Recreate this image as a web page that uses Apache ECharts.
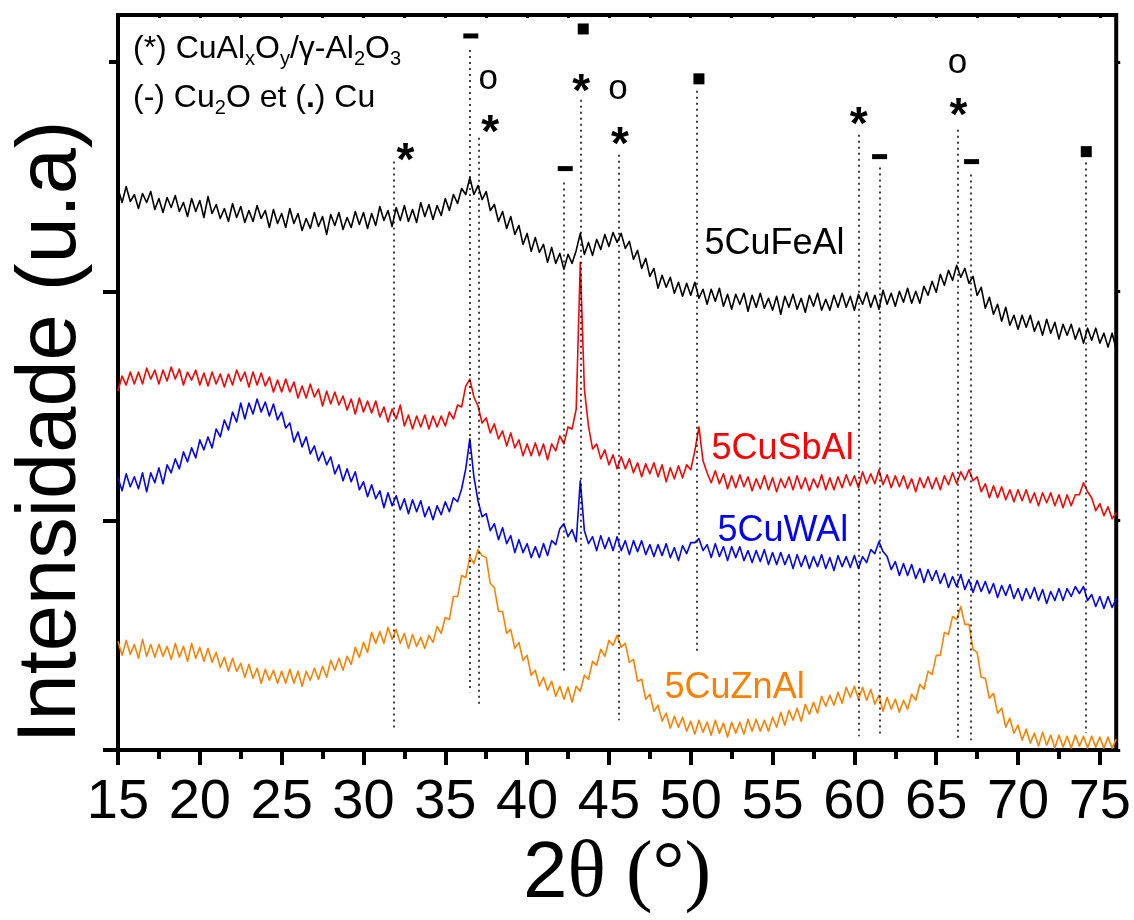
<!DOCTYPE html>
<html>
<head>
<meta charset="utf-8">
<script src="https://cdn.jsdelivr.net/npm/echarts@6/dist/echarts.min.js"></script>
<style>html,body{margin:0;padding:0;background:#fff}#chart{width:1134px;height:920px}</style>
</head>
<body>
<div id="chart"></div>
<script>
// 2θ sampling grid: 15° to 76° every 0.25°
const thetaStart = 15;
const thetaStep = 0.25;

// Intensities (a.u.), one value per 0.25°
const cuFeAl = [
563,549,565,550,557,543,558,549,560,542,553,539,554,544,556,540,549,535,553,540,
551,534,555,538,547,533,543,530,548,534,545,529,541,530,546,533,541,524,542,528,
538,524,543,528,538,521,533,523,539,525,535,517,537,526,539,522,534,524,540,527,
539,523,538,526,545,531,541,525,544,531,546,530,542,529,549,535,547,532,546,536,
553,541,557,548,563,557,574,557,566,552,560,541,547,530,540,523,535,517,526,507,
518,500,514,499,507,489,504,488,498,482,497,488,501,518,497,509,496,512,502,517,
505,519,509,518,503,510,492,501,483,493,475,483,463,476,464,474,458,469,455,468,
456,469,453,462,447,462,450,463,445,457,442,457,447,458,440,456,444,458,443,453,
441,455,437,455,444,457,442,453,439,456,445,458,441,452,441,456,444,458,444,455,
441,457,447,459,444,456,442,461,447,458,445,460,449,463,448,460,448,465,456,470,
459,477,466,481,471,486,474,483,468,475,456,464,443,454,437,447,430,444,426,436,
422,436,424,436,420,430,416,432,418,429,412,427,416,427,412,423,408,423,411,423,
408,418,404,418,402
];
const cuSbAl = [
360,375,366,379,367,379,367,383,372,381,367,381,370,384,372,382,366,379,371,381,
366,378,365,379,367,377,364,377,366,381,370,379,364,379,366,378,365,374,359,371,
359,372,359,369,353,365,353,367,354,362,345,360,347,359,346,355,341,352,337,353,
339,350,338,350,334,344,329,342,332,346,325,336,322,335,324,336,322,335,324,335,
325,339,332,346,344,365,372,354,345,328,333,318,327,312,320,305,318,303,311,295,
307,295,308,295,307,291,307,300,315,307,324,322,342,489,362,325,302,307,292,301,
286,296,282,294,282,292,278,288,274,287,277,288,274,286,269,283,272,285,273,286,
281,300,324,290,278,268,280,267,277,262,275,263,276,264,274,260,272,262,275,261,
273,259,272,263,274,261,275,262,273,260,272,263,276,261,273,261,274,263,276,265,
275,263,279,267,277,267,281,266,276,263,275,264,275,262,272,259,273,263,274,262,
273,261,275,266,278,267,279,271,281,270,274,259,267,253,265,253,264,251,261,249,
261,250,261,248,258,245,258,248,258,245,256,243,256,245,256,256,268,259,253,240,
247,235,244,232,238
];
const cuWAl = [
273,260,277,264,274,262,278,259,278,268,283,267,286,278,292,282,299,289,303,293,
311,301,314,303,322,314,331,321,339,329,348,332,348,337,352,339,349,335,347,331,
339,323,328,309,319,304,314,297,305,290,299,286,294,277,286,270,282,269,279,261,
269,254,266,252,260,243,258,245,255,241,252,237,251,239,250,234,244,231,245,236,
249,239,253,249,262,282,312,274,250,234,237,220,227,211,223,207,215,198,211,198,
207,193,204,193,207,195,210,206,222,227,214,221,209,270,220,207,214,200,215,202,
213,200,214,200,210,196,210,199,210,196,206,194,206,195,207,193,203,190,205,197,
208,208,212,200,206,193,207,194,204,190,204,193,204,190,200,188,200,189,201,186,
198,186,198,186,196,182,196,184,195,182,194,184,196,182,193,180,195,184,194,183,
195,182,194,188,201,197,209,199,194,181,189,175,187,175,186,172,182,168,181,170,
180,167,177,163,174,164,176,161,171,158,170,159,169,157,167,153,165,155,166,152,
162,150,162,152,163,150,161,147,159,150,162,150,162,154,164,157,164,150,156,144,
154,142,154,143,152
];
const cuZnAl = [
109,95,110,96,106,92,111,94,106,93,106,94,104,91,107,93,104,89,107,92,
103,89,102,88,98,83,93,79,92,79,87,73,86,72,82,67,81,70,80,67,
79,67,81,67,79,64,79,70,82,71,84,73,90,80,92,80,94,86,103,93,
108,98,118,107,119,107,123,111,121,107,117,102,116,104,113,102,115,108,124,117,
133,131,154,154,175,173,194,187,201,195,193,167,163,139,139,117,121,102,108,90,
95,75,80,64,73,60,69,54,64,51,63,48,64,59,75,71,89,85,101,94,
110,105,115,103,107,88,91,69,71,51,56,39,45,29,37,22,34,23,33,19,
29,16,30,18,28,15,30,17,27,13,28,17,28,16,31,19,31,19,30,19,
33,23,38,25,40,30,42,29,46,36,48,37,54,44,55,45,58,47,63,53,
64,51,63,50,61,46,55,39,53,41,51,38,50,41,56,50,66,61,79,76,
95,95,118,116,134,131,144,126,126,101,98,73,72,52,57,37,42,23,32,17,
25,10,21,7,17,4,18,5,15,2,15,3,14,2,15,4,14,2,14,3,
13,2,13,2,11
];

// Axes ticks
const xTicks = [15, 20, 25, 30, 35, 40, 45, 50, 55, 60, 65, 70, 75];
const xMinorTicks = [17.5, 22.5, 27.5, 32.5, 37.5, 42.5, 47.5, 52.5, 57.5, 62.5, 67.5, 72.5];
const xTopTicks = [15, 17.5, 20, 22.5, 25, 27.5, 30, 32.5, 35, 37.5, 40, 42.5, 45, 47.5, 50, 52.5, 55, 57.5, 60, 62.5, 65, 67.5, 70, 72.5, 75];
const yTicks = [0, 230, 460];
const yMinorTicks = [690];
const yRightTicks = [0, 230, 460, 690];

// Sample names and where they sit [2θ, intensity]
const sampleNames = ['5CuFeAl', '5CuSbAl', '5CuWAl', '5CuZnAl'];
const sampleLabelAt = [[50.81, 507], [51.24, 302], [51.60, 220], [48.37, 62]];

// Reference peak lines [2θ, top, bottom]
const refLines = [
  [31.84, 590, 20], [36.47, 702, 58], [37.02, 614, 45], [42.25, 569, 77],
  [43.30, 652, 83], [45.62, 597, 30], [50.38, 661, 97], [60.26, 617, 14],
  [61.54, 584, 14], [66.30, 622, 12], [67.10, 577, 10], [74.11, 589, 17]
];
// Phase markers [2θ, height]
const starMarks = [[32.57, 599], [37.75, 627], [43.30, 669], [45.68, 615], [60.26, 635], [66.36, 644]];
const circleMarks = [[37.63, 669], [45.56, 659], [66.30, 686]];
const dashMarks = [[36.56, 716], [42.33, 583], [61.54, 595], [67.16, 590]];
const squareMarks = [[43.43, 723], [50.50, 673], [74.17, 600]];

const FONT = "'Liberation Sans', Arial, Helvetica, sans-serif";
const colors = ['#000000', '#ff0000', '#0000ff', '#ff8000'];
const curves = [cuFeAl, cuSbAl, cuWAl, cuZnAl];

function pairs(arr) {
  return arr.map((v, i) => [thetaStart + i * thetaStep, v]);
}

const chart = echarts.init(document.getElementById('chart'), null, {renderer: 'canvas'});

const lineSeries = curves.map((arr, k) => ({
  type: 'line',
  name: sampleNames[k],
  data: pairs(arr),
  showSymbol: false,
  symbol: 'none',
  clip: true,
  z: 3,
  lineStyle: {color: colors[k], width: 1.6, join: 'round'},
  emphasis: {disabled: true}
}));

const hiddenItem = {color: 'rgba(0,0,0,0)', opacity: 1};

const option = {
  animation: false,
  backgroundColor: '#ffffff',
  grid: {left: 118, right: 16, top: 15, bottom: 168, show: true, borderWidth: 4, borderColor: '#000', backgroundColor: 'transparent'},
  xAxis: [
    {
      type: 'value', min: 15, max: 76, position: 'bottom',
      axisLine: {show: false, onZero: false},
      axisTick: {show: true, customValues: xTicks, length: 15, lineStyle: {color: '#000', width: 4}},
      axisLabel: {show: true, customValues: xTicks, fontSize: 56, fontFamily: FONT, color: '#000', margin: 24},
      splitLine: {show: false},
      name: '{a|2}{b|θ (°)}',
      nameLocation: 'middle',
      nameGap: 82,
      nameTextStyle: {
        rich: {
          a: {fontSize: 80, fontFamily: FONT, color: '#000'},
          b: {fontSize: 80, fontFamily: "'Liberation Serif', 'Times New Roman', serif", color: '#000'}
        }
      }
    },
    {
      type: 'value', min: 15, max: 76, position: 'bottom',
      axisLine: {show: false, onZero: false},
      axisTick: {show: true, customValues: xMinorTicks, length: 9, lineStyle: {color: '#000', width: 4}},
      axisLabel: {show: false}, splitLine: {show: false}
    },
    {
      type: 'value', min: 15, max: 76, position: 'top',
      axisLine: {show: false, onZero: false},
      axisTick: {show: true, inside: true, customValues: xTopTicks, length: 3, lineStyle: {color: '#000', width: 3}},
      axisLabel: {show: false}, splitLine: {show: false}
    }
  ],
  yAxis: [
    {
      type: 'value', min: 0, max: 737, position: 'left',
      axisLine: {show: false, onZero: false},
      axisTick: {show: true, customValues: yTicks, length: 15, lineStyle: {color: '#000', width: 4}},
      axisLabel: {show: false}, splitLine: {show: false}
    },
    {
      type: 'value', min: 0, max: 737, position: 'left',
      axisLine: {show: false, onZero: false},
      axisTick: {show: true, customValues: yMinorTicks, length: 9, lineStyle: {color: '#000', width: 4}},
      axisLabel: {show: false}, splitLine: {show: false}
    },
    {
      type: 'value', min: 0, max: 737, position: 'right',
      axisLine: {show: false, onZero: false},
      axisTick: {show: true, customValues: yRightTicks, length: 4, lineStyle: {color: '#000', width: 3}},
      axisLabel: {show: false}, splitLine: {show: false}
    }
  ],
  series: [
    ...lineSeries,
    {
      type: 'scatter', name: 'Cu', data: squareMarks, symbol: 'rect', symbolSize: [11, 11],
      itemStyle: {color: '#000', opacity: 1}, z: 5, silent: true,
      markLine: {
        silent: true, symbol: ['none', 'none'], animation: false,
        label: {show: false},
        lineStyle: {type: [2, 4], width: 1.5, color: '#000', opacity: 1},
        emphasis: {disabled: true},
        data: refLines.map(r => [{coord: [r[0], r[1]]}, {coord: [r[0], r[2]]}])
      }
    },
    {
      type: 'scatter', name: 'Cu2O', data: dashMarks, symbol: 'rect', symbolSize: [15, 5],
      itemStyle: {color: '#000', opacity: 1}, z: 5, silent: true
    },
    {
      type: 'scatter', name: 'CuAlxOy', data: starMarks, symbolSize: 1,
      itemStyle: hiddenItem, z: 5, silent: true,
      label: {show: true, position: 'inside', formatter: '*', fontSize: 46, fontWeight: 'bold', fontFamily: FONT, color: '#000', opacity: 1, textBorderWidth: 0, offset: [0, 10]}
    },
    {
      type: 'scatter', name: 'o', data: circleMarks, symbolSize: 1,
      itemStyle: hiddenItem, z: 5, silent: true,
      label: {show: true, position: 'inside', formatter: 'o', fontSize: 35, fontFamily: FONT, color: '#000', opacity: 1, textBorderWidth: 0, offset: [0, -3]}
    },
    {
      type: 'scatter', name: 'names', symbolSize: 1,
      itemStyle: hiddenItem, z: 6, silent: true,
      data: sampleNames.map((n, k) => ({name: n, value: sampleLabelAt[k], label: {color: colors[k]}})),
      label: {show: true, position: 'right', distance: 0, formatter: p => p.name, fontSize: 36, fontFamily: FONT, opacity: 1, textBorderWidth: 0}
    }
  ],
  graphic: [
    {
      type: 'text', x: 52, y: 432, rotation: Math.PI / 2, silent: true,
      style: {text: 'Intensidade (u.a)', font: "83px " + FONT, fill: '#000', align: 'center', verticalAlign: 'middle', textAlign: 'center', textVerticalAlign: 'middle'}
    },
    {
      type: 'text', x: 133, y: 49, silent: true,
      style: {
        text: '{n|(*) CuAl}{s|x}{n|O}{s|y}{n|/γ-Al}{s|2}{n|O}{s|3}',
        align: 'left', verticalAlign: 'middle', textAlign: 'left', textVerticalAlign: 'middle',
        fill: '#000',
        rich: {
          n: {fontSize: 32, fontFamily: FONT, lineHeight: 40, fill: '#000', color: '#000'},
          s: {fontSize: 20, fontFamily: FONT, lineHeight: 20, verticalAlign: 'bottom', fill: '#000', color: '#000'}
        }
      }
    },
    {
      type: 'text', x: 133, y: 98, silent: true,
      style: {
        text: '{n|(-) Cu}{s|2}{n|O et (}{b|.}{n|) Cu}',
        align: 'left', verticalAlign: 'middle', textAlign: 'left', textVerticalAlign: 'middle',
        fill: '#000',
        rich: {
          n: {fontSize: 32, fontFamily: FONT, lineHeight: 40, fill: '#000', color: '#000'},
          b: {fontSize: 32, fontFamily: FONT, fontWeight: 'bold', lineHeight: 40, fill: '#000', color: '#000'},
          s: {fontSize: 20, fontFamily: FONT, lineHeight: 20, verticalAlign: 'bottom', fill: '#000', color: '#000'}
        }
      }
    }
  ]
};
chart.setOption(option);
</script>
</body>
</html>
